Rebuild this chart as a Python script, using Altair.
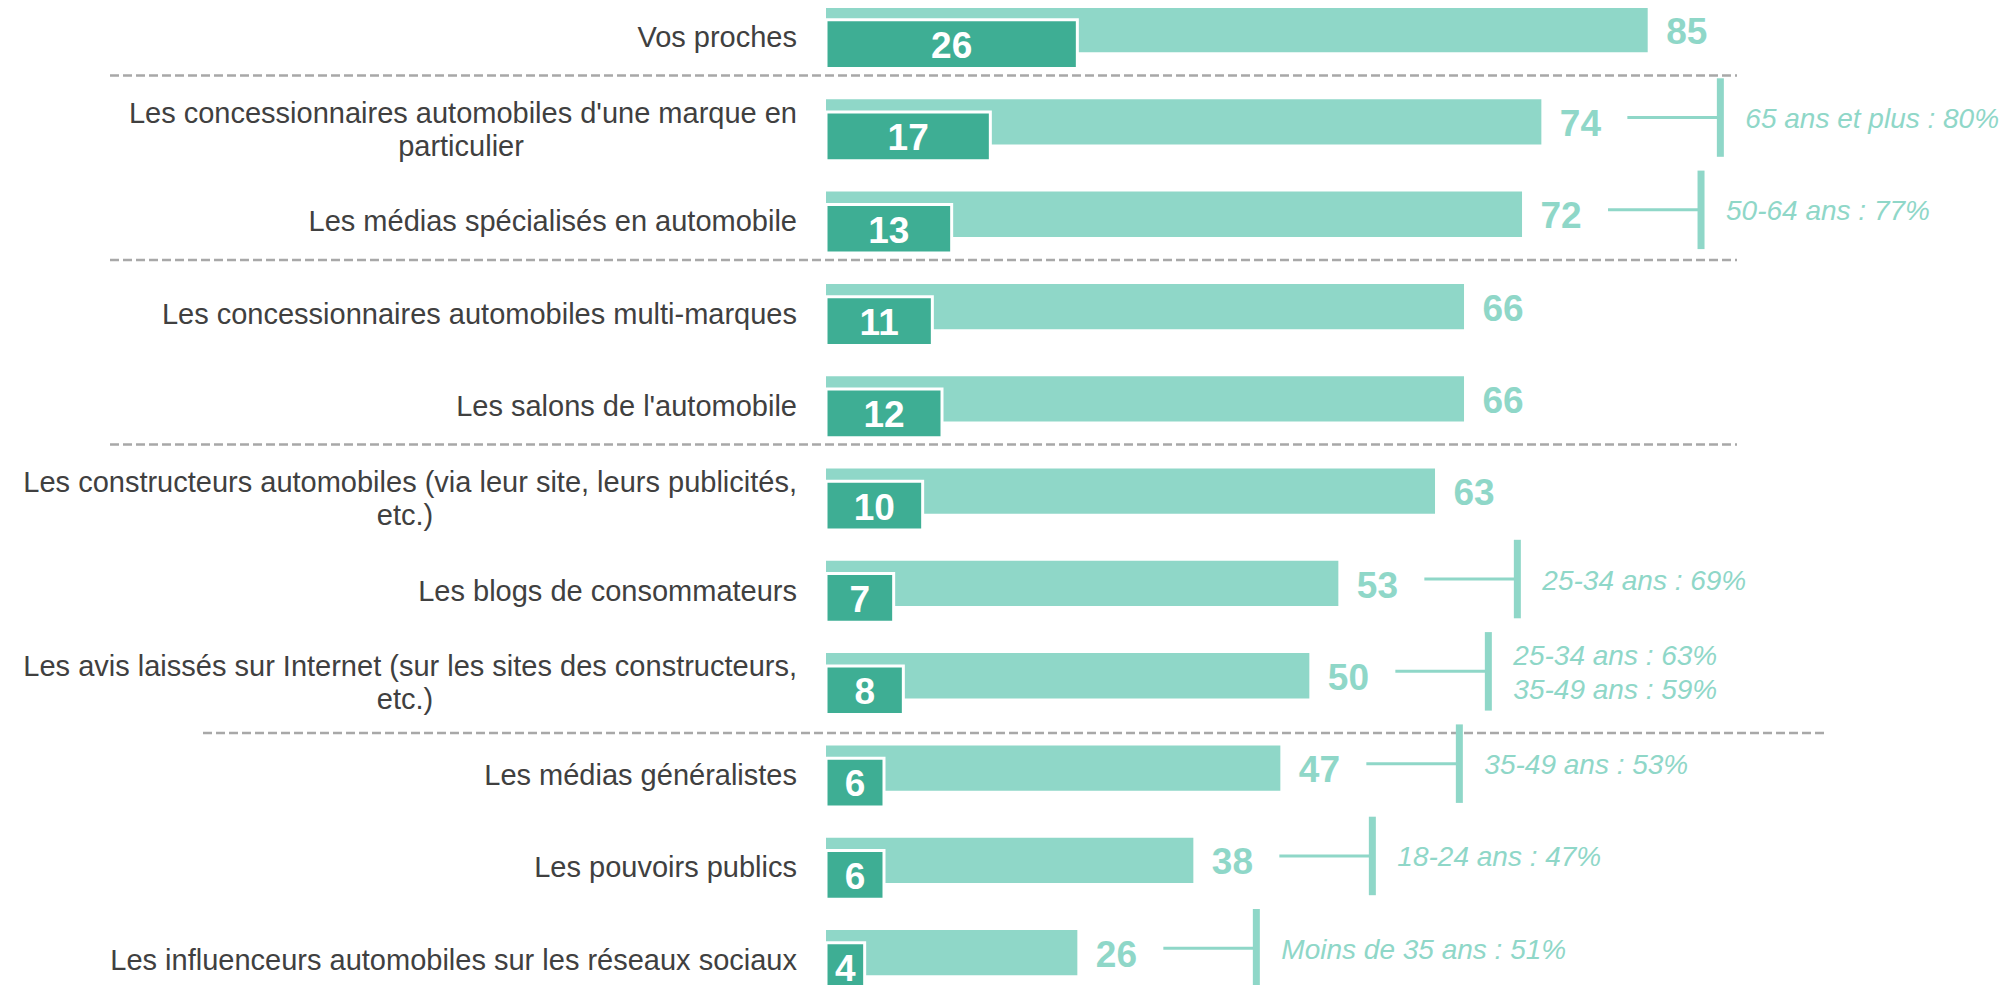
import altair as alt
import pandas as pd

# ---- data ----
categories = [
    "Vos proches",
    "Les concessionnaires automobiles d'une marque en\nparticulier",
    "Les médias spécialisés en automobile",
    "Les concessionnaires automobiles multi-marques",
    "Les salons de l'automobile",
    "Les constructeurs automobiles (via leur site, leurs publicités,\netc.)",
    "Les blogs de consommateurs",
    "Les avis laissés sur Internet (sur les sites des constructeurs,\netc.)",
    "Les médias généralistes",
    "Les pouvoirs publics",
    "Les influenceurs automobiles sur les réseaux sociaux",
]
total_values = [85, 74, 72, 66, 66, 63, 53, 50, 47, 38, 26]
first_values = [26, 17, 13, 11, 12, 10, 7, 8, 6, 6, 4]
age_notes = [
    "",
    "65 ans et plus : 80%",
    "50-64 ans : 77%",
    "",
    "",
    "",
    "25-34 ans : 69%",
    "25-34 ans : 63%\n35-49 ans : 59%",
    "35-49 ans : 53%",
    "18-24 ans : 47%",
    "Moins de 35 ans : 51%",
]
separator_before_rows = [1, 3, 5, 8]

# ---- styles ----
LIGHT = "#8FD7C8"
DARK = "#3EAE94"
LABEL_COLOR = "#404040"
SEP_COLOR = "#A8A8A8"
FONT = "Liberation Sans"

rows = list(range(len(categories)))
line1 = [c.split("\n")[0] for c in categories]
line2 = [c.split("\n")[1] if "\n" in c else "" for c in categories]
df = pd.DataFrame({
    "r": rows,
    "total": total_values,
    "first": first_values,
    "note": age_notes,
    "nlines": [n.count("\n") + 1 for n in age_notes],
    "l1": line1,
    "l2": line2,
    "wrapped": [1 if b else 0 for b in line2],
})
df["mid"] = df["first"] / 2
sep_df = pd.DataFrame({"r": separator_before_rows})

yscale = alt.Scale(domain=rows, range=[-16.4, 998.9], paddingInner=0, paddingOuter=0)
xscale = alt.Scale(domain=[0, 100], range=[818, 1784.7])

Y = alt.Y("r:O", scale=yscale, axis=None)
X = lambda f: alt.X(f, scale=xscale, axis=None)
base = alt.Chart(df)

light = base.mark_bar(height=45.3, yOffset=-8.1, color=LIGHT).encode(x=X("total:Q"), y=Y)

darkbar = base.mark_bar(height=48.7, yOffset=6.4, color=DARK, stroke="white", strokeWidth=3).encode(
    x=X("first:Q"), y=Y)

total_lbl = base.mark_text(align="left", baseline="middle", dx=18.5, yOffset=-5,
                           font=FONT, fontSize=37, fontWeight="bold", color=LIGHT).encode(
    x=X("total:Q"), y=Y, text="total:Q")

first_lbl = base.mark_text(align="center", baseline="middle", yOffset=9.3,
                           font=FONT, fontSize=37, fontWeight="bold", color="white").encode(
    x=X("mid:Q"), y=Y, text="first:Q")

lbl_style = dict(baseline="middle", font=FONT, fontSize=29, color=LABEL_COLOR)
cat_single = base.transform_filter("datum.wrapped == 0").mark_text(align="right", **lbl_style).encode(
    x=alt.value(789), y=Y, text="l1:N")
cat_wrap1 = base.transform_filter("datum.wrapped == 1").mark_text(
    align="right", yOffset=-16.5, **lbl_style).encode(x=alt.value(789), y=Y, text="l1:N")
cat_wrap2a = base.transform_filter("datum.r == 1").mark_text(
    align="center", yOffset=16.5, **lbl_style).encode(x=alt.value(453), y=Y, text="l2:N")
cat_wrap2b = base.transform_filter("datum.r == 5 || datum.r == 7").mark_text(
    align="center", yOffset=16.5, **lbl_style).encode(x=alt.value(397), y=Y, text="l2:N")

notes = base.transform_filter("datum.note != ''")
hline = notes.mark_rule(xOffset=86, x2Offset=179, yOffset=-12.5, strokeWidth=3, color=LIGHT).encode(
    x=X("total:Q"), x2="total:Q", y=Y)
vline = notes.mark_tick(orient="vertical", size=78.5, thickness=7, xOffset=179, yOffset=-12.5,
                        color=LIGHT, opacity=1).encode(x=X("total:Q"), y=Y)
note_style = dict(align="left", baseline="middle", dx=204, lineBreak="\n", lineHeight=33.3,
                  font=FONT, fontSize=28, fontStyle="italic", color=LIGHT)
note_single = notes.transform_filter("datum.nlines == 1").mark_text(yOffset=-10, **note_style).encode(
    x=X("total:Q"), y=Y, text="note:N")
note_double = notes.transform_filter("datum.nlines == 2").mark_text(yOffset=-26.6, **note_style).encode(
    x=X("total:Q"), y=Y, text="note:N")

Ysep = alt.Y("r:O", scale=yscale, axis=None, bandPosition=0)
sep_style = dict(color=SEP_COLOR, strokeWidth=2.5, strokeDash=[9, 4])
sep_a = alt.Chart(sep_df).transform_filter("datum.r < 8").mark_rule(yOffset=-8.5, **sep_style).encode(
    x=alt.value(102), x2=alt.value(1729), y=Ysep)
sep_b = alt.Chart(sep_df).transform_filter("datum.r >= 8").mark_rule(yOffset=3, **sep_style).encode(
    x=alt.value(195), x2=alt.value(1820), y=Ysep)

chart = alt.layer(
    sep_a, sep_b, light, darkbar, total_lbl, first_lbl,
    cat_single, cat_wrap1, cat_wrap2a, cat_wrap2b,
    hline, vline, note_single, note_double
).properties(width=1994, height=977, padding=0, autosize="none").configure_view(stroke=None)

chart.save("out.html", embed_options={"renderer": "svg", "actions": False})
